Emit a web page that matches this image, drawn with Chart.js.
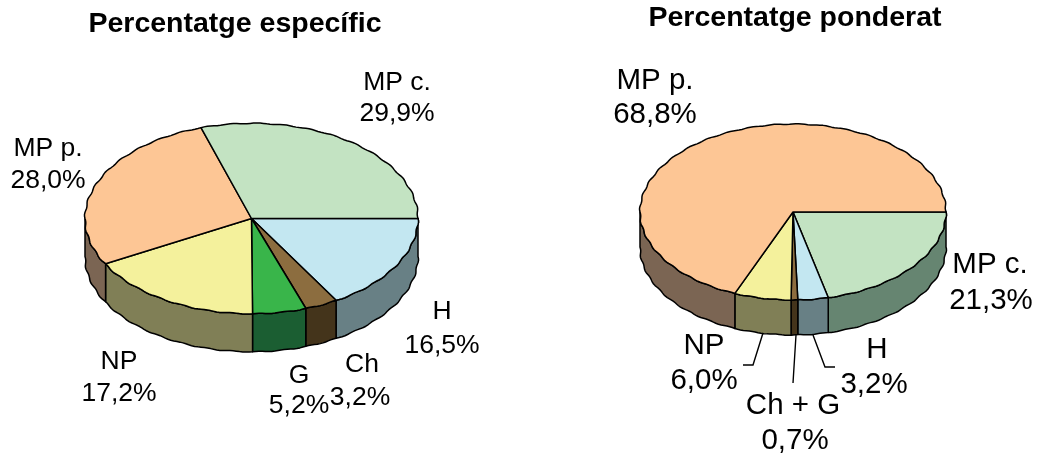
<!DOCTYPE html>
<html>
<head>
<meta charset="utf-8">
<title>Percentatges</title>
<script src="https://cdn.jsdelivr.net/npm/chart.js@4/dist/chart.umd.min.js"></script>
<style>
    body { margin: 0; background: #ffffff; }
    #wrap { position: relative; width: 1042px; height: 456px; overflow: hidden; }
    canvas { position: absolute; top: 0; }
</style>
</head>
<body>
<div id="wrap">
    <canvas id="especific" width="521" height="456" style="left:0"></canvas>
    <canvas id="ponderat" width="521" height="456" style="left:521px"></canvas>
</div>
<script>
// Values go clockwise from 3 o'clock
const especificLabels = ['H', 'Ch', 'G', 'NP', 'MP p.', 'MP c.'];
const especificValues = [16.5, 3.2, 5.2, 17.2, 28.0, 29.9];
const especificColors = ['#c3e7f1', '#8c6d3f', '#39b54a', '#f4f19c', '#fdc695', '#c3e3c2'];
const especificWalls = ['#688085', '#44341b', '#1b5e32', '#807f56', '#7b6553', '#668571'];

const ponderatLabels = ['MP c.', 'H', 'Ch + G', 'NP', 'MP p.'];
const ponderatValues = [21.3, 3.2, 0.7, 6.0, 68.8];
const ponderatColors = ['#c3e3c2', '#c3e7f1', '#8c6d3f', '#f4f19c', '#fdc695'];
const ponderatWalls = ['#668571', '#688085', '#44341b', '#807f56', '#7b6553'];

const FONT_FAMILY = '"Liberation Sans", Arial, sans-serif';

function wavyPoint(arc, angle, squash, drop) {
    // slightly scalloped rim
    const r = arc.outerRadius * (1 + 0.004 * Math.sin(angle * 40));
    return [arc.x + r * Math.cos(angle), arc.y + r * Math.sin(angle) * squash + drop];
}

function traceRim(ctx, arc, from, to, squash, drop) {
    const steps = Math.max(2, Math.ceil(Math.abs(to - from) / 0.02));
    for (let i = 0; i <= steps; i++) {
        const p = wavyPoint(arc, from + (to - from) * i / steps, squash, drop);
        ctx.lineTo(p[0], p[1]);
    }
}

function percentText(value) {
    return value.toFixed(1).replace('.', ',') + '%';
}

// Draws the pie as a flattened disc with a side wall, using the arcs Chart.js computed
const discPlugin = {
    id: 'disc',
    beforeDatasetDraw(chart, args, opts) {
        const ctx = chart.ctx;
        const arcs = chart.getDatasetMeta(0).data;
        const colors = chart.data.datasets[0].backgroundColor;
        ctx.save();
        ctx.lineWidth = 1.5;
        ctx.lineJoin = 'round';
        ctx.strokeStyle = '#000000';

        arcs.forEach((arc, i) => {
            const a = Math.max(arc.startAngle, 0);
            const b = Math.min(arc.endAngle, Math.PI);
            if (b <= a) return;
            ctx.beginPath();
            traceRim(ctx, arc, a, b, opts.squash, 0);
            traceRim(ctx, arc, b, a, opts.squash, opts.depth);
            ctx.closePath();
            ctx.fillStyle = opts.walls[i];
            ctx.fill();
            ctx.stroke();
        });

        arcs.forEach((arc, i) => {
            ctx.beginPath();
            ctx.moveTo(arc.x, arc.y);
            traceRim(ctx, arc, arc.startAngle, arc.endAngle, opts.squash, 0);
            ctx.closePath();
            ctx.fillStyle = colors[i];
            ctx.fill();
            ctx.stroke();
        });
        ctx.restore();
        return false;
    },
    afterDraw(chart, args, opts) {
        const ctx = chart.ctx;
        ctx.save();
        ctx.fillStyle = '#000000';
        ctx.textAlign = 'center';
        ctx.textBaseline = 'middle';

        ctx.font = 'bold ' + opts.titleSize + 'px ' + FONT_FAMILY;
        ctx.fillText(opts.title, opts.titleAt[0], opts.titleAt[1]);

        ctx.font = opts.labelSize + 'px ' + FONT_FAMILY;
        chart.data.labels.forEach((name, i) => {
            const at = opts.labelAt[i];
            ctx.fillText(name, at[0], at[1]);
            ctx.fillText(percentText(chart.data.datasets[0].data[i]), at[2], at[3]);
        });

        ctx.lineWidth = 1.4;
        ctx.strokeStyle = '#000000';
        opts.leaders.forEach(line => {
            ctx.beginPath();
            line.forEach(p => ctx.lineTo(p[0], p[1]));
            ctx.stroke();
        });
        ctx.restore();
    }
};

function makePie(id, labels, values, colors, padding, disc) {
    return new Chart(document.getElementById(id), {
        type: 'pie',
        data: {
            labels: labels,
            datasets: [{ data: values, backgroundColor: colors, borderWidth: 0 }]
        },
        options: {
            responsive: false,
            animation: false,
            rotation: 90,
            layout: { padding: padding },
            events: [],
            plugins: {
                legend: { display: false },
                tooltip: { enabled: false },
                disc: disc
            }
        },
        plugins: [discPlugin]
    });
}

makePie('especific', especificLabels, especificValues, especificColors,
    { left: 85, right: 103, top: 52, bottom: 71 },
    {
        squash: 0.572,
        depth: 38,
        walls: especificWalls,
        title: 'Percentatge específic',
        titleAt: [235, 24],
        titleSize: 28.5,
        labelSize: 26.5,
        labelAt: [
            [442, 312, 442, 346],
            [362, 365, 360, 398],
            [299, 376, 299, 406],
            [119, 362, 119, 394],
            [48, 149, 48, 181],
            [397, 83, 397, 114]
        ],
        leaders: []
    });

makePie('ponderat', ponderatLabels, ponderatValues, ponderatColors,
    { left: 119, right: 96, top: 59, bottom: 91 },
    {
        squash: 0.575,
        depth: 35,
        walls: ponderatWalls,
        title: 'Percentatge ponderat',
        titleAt: [274, 18],
        titleSize: 28.5,
        labelSize: 29.5,
        labelAt: [
            [469, 265, 470, 301],
            [356, 350, 353, 385],
            [272, 406, 274, 441],
            [183, 346, 183, 381],
            [134, 81, 134, 115]
        ],
        leaders: [
            [[242, 333], [232, 365], [222, 365]],
            [[275, 335], [272, 383]],
            [[292, 335], [304, 367], [314, 367]]
        ]
    });
</script>
</body>
</html>
